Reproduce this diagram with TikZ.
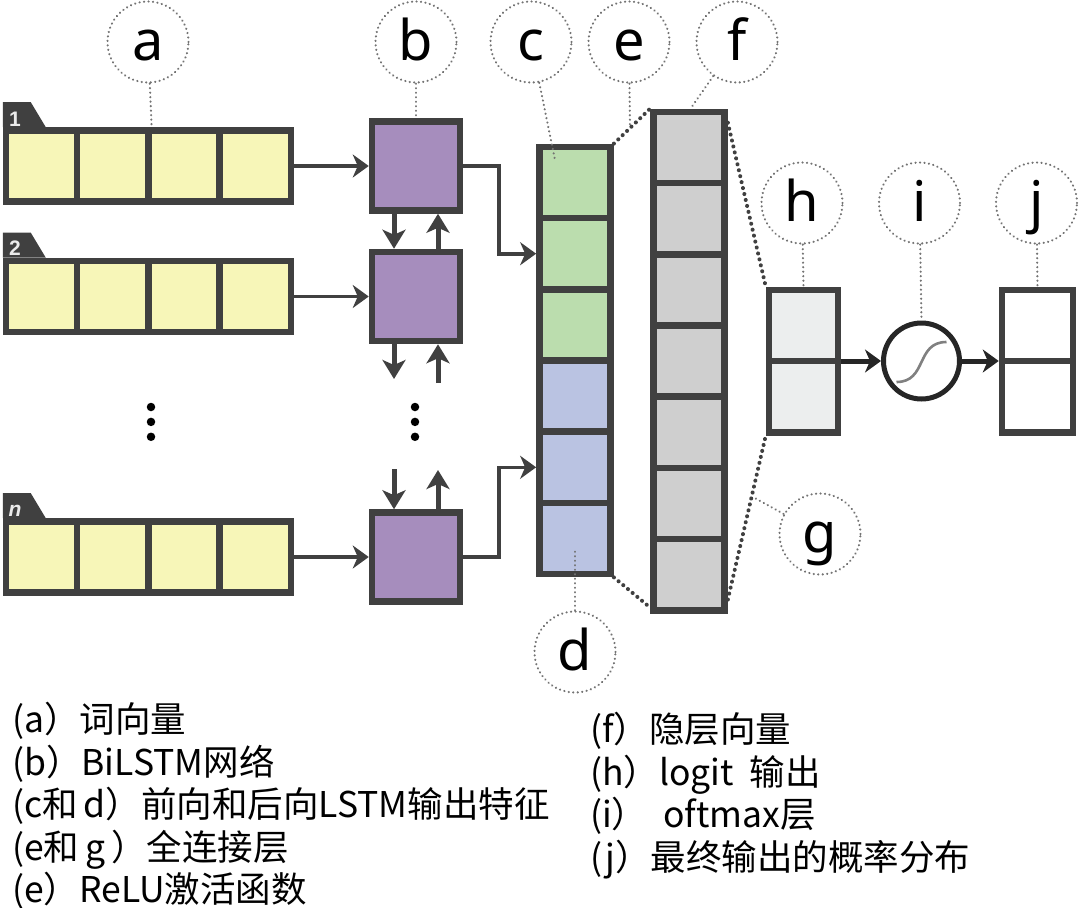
\documentclass[tikz,border=0pt]{standalone}
\usepackage{fontspec}
\setmainfont{Noto Sans}
\newfontfamily\cjkfont{Noto Sans CJK SC}
\newfontfamily\tabfont{Liberation Sans}
\usetikzlibrary{positioning,arrows.meta,calc}
\definecolor{edgegray}{HTML}{404040}
\definecolor{wordyel}{HTML}{F7F6B8}
\definecolor{lstmpur}{HTML}{A68DBD}
\definecolor{fwdgrn}{HTML}{BBDDAE}
\definecolor{bwdblu}{HTML}{BAC3E2}
\definecolor{hidgray}{HTML}{CFCFCF}
\definecolor{logitgray}{HTML}{ECEEEE}
\tikzset{
  cell/.style={draw=edgegray,line width=6.5pt,minimum width=71.2pt,minimum height=71.2pt,
    inner sep=0pt},
  wcell/.style={cell,fill=wordyel},
  lstm/.style={cell,fill=lstmpur,minimum width=88pt,minimum height=89pt},
  fcell/.style={cell,fill=fwdgrn},
  bcell/.style={cell,fill=bwdblu},
  hcell/.style={cell,fill=hidgray},
  lcell/.style={cell,fill=logitgray,minimum width=69pt},
  ocell/.style={cell,fill=white,minimum width=71pt},
  tabnum/.style={font=\tabfont\fontsize{21}{21}\selectfont\bfseries,text=white!92!black,inner sep=0pt},
  tag/.style={circle,draw=black!55,line width=2.3pt,dash pattern=on 0.1pt off 4.4pt,line cap=round,
    minimum size=81pt,inner sep=0pt,text height=44pt,text depth=8pt,
    font=\fontsize{56}{60}\selectfont},
  leader/.style={draw=black!55,line width=2.3pt,dash pattern=on 0.1pt off 4.4pt,line cap=round},
  fan/.style={draw=edgegray,line width=4pt,dash pattern=on 0.1pt off 6pt,line cap=round},
  flow/.style={-{Stealth[length=16pt,width=23pt,inset=5pt]},draw=edgegray,line width=3.6pt},
  link/.style={-{Stealth[length=19pt,width=23pt,inset=5pt]},draw=edgegray,line width=5pt},
  sgflow/.style={flow,draw=black!85,line width=5pt},
  gapdot/.style={circle,fill=black,inner sep=0pt,minimum size=8.5pt},
  legend/.style={align=left,anchor=north west,inner sep=0pt,
    font=\cjkfont\fontsize{35.5}{42.6}\selectfont},
}
\begin{document}
\begin{tikzpicture}[x=1pt,y=-1pt]
  \useasboundingbox (0,0) rectangle (1080,908);
  % word vectors
  \node[wcell] (w11) at (41.6,166) {};
  \node[wcell,right=-6.5pt of w11] (w12) {};
  \node[wcell,right=-6.5pt of w12] (w13) {};
  \node[wcell,right=-6.5pt of w13] (w14) {};
  \node[wcell] (w21) at (41.6,296.5) {};
  \node[wcell,right=-6.5pt of w21] (w22) {};
  \node[wcell,right=-6.5pt of w22] (w23) {};
  \node[wcell,right=-6.5pt of w23] (w24) {};
  \node[wcell] (wn1) at (41.6,557) {};
  \node[wcell,right=-6.5pt of wn1] (wn2) {};
  \node[wcell,right=-6.5pt of wn2] (wn3) {};
  \node[wcell,right=-6.5pt of wn3] (wn4) {};
  \fill[edgegray] (w11.north west) -- ++(0,-25) -- ++(28,0) -- ++(15,25) -- cycle;
  \fill[edgegray] (w21.north west) -- ++(0,-25) -- ++(28,0) -- ++(15,25) -- cycle;
  \fill[edgegray] (wn1.north west) -- ++(0,-25) -- ++(28,0) -- ++(15,25) -- cycle;
  \node[tabnum] (t1) at (15,119) {1};
  \node[tabnum] (t2) at (15,248) {2};
  \node[tabnum] (tn) at (15,511) {\itshape n};
  % bilstm
  \node[lstm] (pa) at (416,166) {};
  \node[lstm] (pb) at (416,296.5) {};
  \node[lstm] (pn) at (416,557) {};
  \draw[flow] (w14.east) -- (pa.west);
  \draw[flow] (w24.east) -- (pb.west);
  \draw[flow] (wn4.east) -- (pn.west);
  \coordinate (dn1) at (394,379);
  \coordinate (up1) at (438,383);
  \coordinate (dn2) at (394,469);
  \coordinate (up2) at (438,470);
  \draw[link] ([xshift=-22pt]pa.south) -- ([xshift=-22pt]pb.north);
  \draw[link] ([xshift=22pt]pb.north) -- ([xshift=22pt]pa.south);
  \draw[link] ([xshift=-22pt]pb.south) -- (dn1);
  \draw[link] (up1) -- ([xshift=22pt]pb.south);
  \draw[link] (dn2) -- ([xshift=-22pt]pn.north);
  \draw[link] ([xshift=22pt]pn.north) -- (up2);
  \node[gapdot] (v1) at (151,407) {};
  \node[gapdot,below=6pt of v1] (v2) {};
  \node[gapdot,below=6pt of v2] (v3) {};
  \node[gapdot] (u1) at (415,407) {};
  \node[gapdot,below=6pt of u1] (u2) {};
  \node[gapdot,below=6pt of u2] (u3) {};
  % concatenated lstm outputs
  \node[fcell] (s1) at (575,182.5) {};
  \node[fcell,below=-6.5pt of s1] (s2) {};
  \node[fcell,below=-6.5pt of s2] (s3) {};
  \node[bcell,below=-6.5pt of s3] (s4) {};
  \node[bcell,below=-6.5pt of s4] (s5) {};
  \node[bcell,below=-6.5pt of s5] (s6) {};
  \draw[flow] (pa.east) -- ++(36,0) |- (s2.west);
  \draw[flow] (pn.east) -- ++(36,0) |- (s5.west);
  % hidden vector
  \node[hcell] (f1) at (689,147.5) {};
  \node[hcell,below=-6.5pt of f1] (f2) {};
  \node[hcell,below=-6.5pt of f2] (f3) {};
  \node[hcell,below=-6.5pt of f3] (f4) {};
  \node[hcell,below=-6.5pt of f4] (f5) {};
  \node[hcell,below=-6.5pt of f5] (f6) {};
  \node[hcell,below=-6.5pt of f6] (f7) {};
  % logits, softmax, output
  \node[lcell] (h1) at (803.5,325.5) {};
  \node[lcell,below=-6.5pt of h1] (h2) {};
  \node[ocell] (o1) at (1037.5,325.5) {};
  \node[ocell,below=-6.5pt of o1] (o2) {};
  \node[circle,draw=black!85,line width=5pt,fill=white,minimum size=76pt,inner sep=0pt] (sg) at (921.5,361) {};
  \draw[gray,line width=2.6pt] ([shift={(-25,21)}]sg.center) .. controls ([shift={(6,21)}]sg.center) and ([shift={(-6,-19)}]sg.center) .. ([shift={(25,-19)}]sg.center);
  \draw[sgflow] (h1.south east |- sg.west) -- (sg.west);
  \draw[sgflow] (sg.east) -- (o1.south west |- sg.east);
  % fully connected fans
  \draw[fan] (s1.north east) -- (f1.north west);
  \draw[fan] (s6.south east) -- ([yshift=6pt]f7.south west);
  \draw[fan] ([yshift=-14pt]f1.north east) -- (h1.north west);
  \draw[fan] ([yshift=14pt]f7.south east) -- (h2.south west);
  % tags
  \node[tag] (la) at (148,42) {a};
  \node[tag] (lb) at (416,42) {b};
  \node[tag] (lc) at (531,42) {c};
  \node[tag] (le) at (629,42) {e};
  \node[tag] (lf) at (737,42) {f};
  \node[tag] (lh) at (802,203) {h};
  \node[tag] (li) at (919.5,203) {i};
  \node[tag] (lj) at (1036.5,203) {j};
  \node[tag] (lg) at (820,534) {g};
  \node[tag] (ld) at (575,652) {d};
  \coordinate (cend) at (555,160);
  \coordinate (eend) at (630,128);
  \coordinate (gend) at (753,497);
  \coordinate (dend) at (575,550);
  \draw[leader] (la) -- (w12.north east);
  \draw[leader] (lb) -- (pa.north);
  \draw[leader] (lc) -- (cend);
  \draw[leader] (le) -- (eend);
  \draw[leader] (lf) -- ([xshift=1.5pt]f1.north);
  \draw[leader] (lh) -- (h1.north);
  \draw[leader] (li) -- (sg.north);
  \draw[leader] (lj) -- (o1.north);
  \draw[leader] (lg) -- (gend);
  \draw[leader] (ld) -- (dend);
  % legend
  \node[legend] (keyl) at (12,702) {(a）词向量\\(b）BiLSTM网络\\(c和\,d）前向和后向LSTM输出特征\\(e和\,g\,）全连接层\\(e）ReLU激活函数};
  \node[legend] (keyr) at (590,712) {(f）隐层向量\\(h）logit\ \ 输出\\(i）\ \ oftmax层\\(j）最终输出的概率分布};
\end{tikzpicture}
\end{document}
